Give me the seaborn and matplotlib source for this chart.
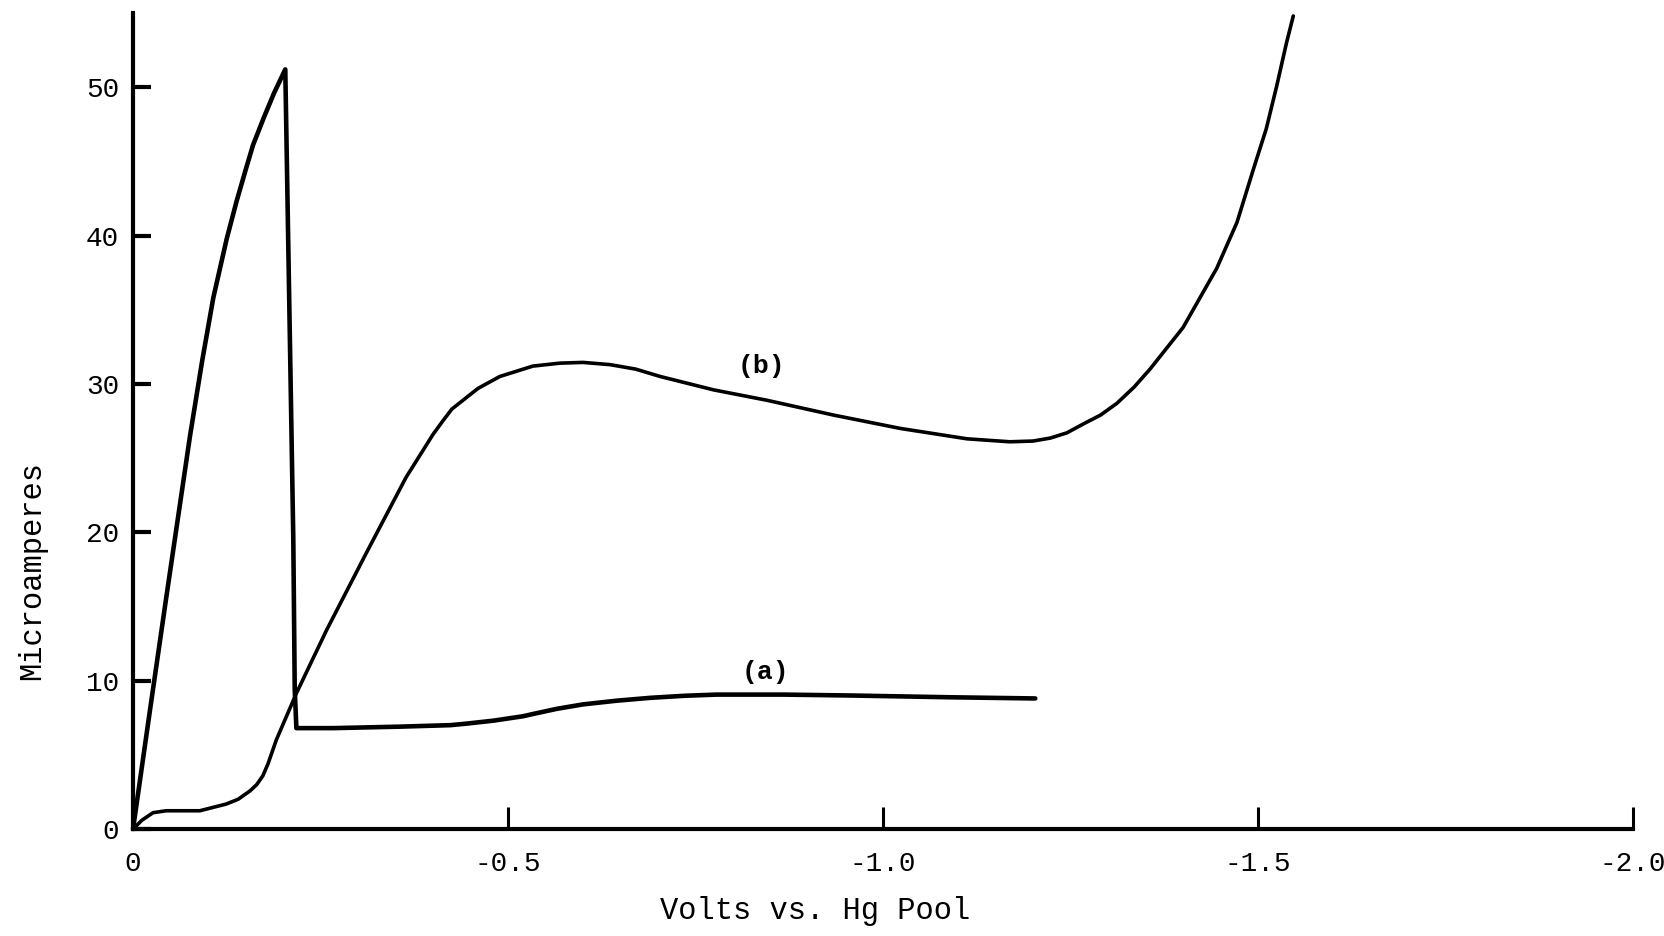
import matplotlib
matplotlib.use("Agg")
import matplotlib.pyplot as plt
import seaborn as sns
import pandas as pd

# ---- data (volts vs. Hg pool, microamperes) ----
curve_a_volts = [0.0, -0.022, -0.044, -0.060, -0.076, -0.092, -0.107, -0.125, -0.138,
                 -0.150, -0.160, -0.174, -0.188, -0.203, -0.2137, -0.2156, -0.2178,
                 -0.267, -0.356, -0.423, -0.444, -0.480, -0.520, -0.533, -0.565,
                 -0.600, -0.645, -0.689, -0.735, -0.778, -0.867, -0.956, -1.089, -1.203]
curve_a_current = [0.0, 7.8, 15.5, 21.0, 26.5, 31.5, 35.8, 39.8, 42.3,
                   44.4, 46.1, 47.9, 49.6, 51.2, 19.5, 9.4, 6.8,
                   6.8, 6.9, 7.0, 7.1, 7.3, 7.6, 7.75, 8.1,
                   8.4, 8.65, 8.84, 8.98, 9.06, 9.06, 9.0, 8.88, 8.8]

curve_b_volts = [0.0, -0.012, -0.0267, -0.044, -0.089, -0.124, -0.140, -0.156, -0.165,
                 -0.173, -0.180, -0.191, -0.218, -0.258, -0.311, -0.364, -0.400,
                 -0.413, -0.425, -0.44, -0.46, -0.489, -0.533, -0.569, -0.600, -0.636,
                 -0.670, -0.703, -0.774, -0.845, -0.934, -1.023, -1.112, -1.169,
                 -1.200, -1.223, -1.245, -1.267, -1.290, -1.312, -1.335, -1.356,
                 -1.40, -1.445, -1.472, -1.494, -1.511, -1.525, -1.538, -1.547]
curve_b_current = [0.0, 0.6, 1.1, 1.23, 1.23, 1.68, 2.0, 2.57, 3.0,
                   3.58, 4.4, 6.0, 9.17, 13.4, 18.6, 23.7, 26.6,
                   27.5, 28.3, 28.9, 29.7, 30.5, 31.2, 31.4, 31.45, 31.3,
                   31.0, 30.5, 29.6, 28.9, 27.9, 27.0, 26.3, 26.1,
                   26.15, 26.35, 26.7, 27.3, 27.9, 28.7, 29.8, 31.0,
                   33.8, 37.8, 40.9, 44.5, 47.2, 50.1, 53.0, 54.8]

x_ticks = [0.0, -0.5, -1.0, -1.5, -2.0]
x_tick_labels = ["0", "-0.5", "-1.0", "-1.5", "-2.0"]
y_ticks = [0, 10, 20, 30, 40, 50]
y_tick_labels = ["0", "10", "20", "30", "40", "50"]
curve_labels = ["(a)", "(b)"]
label_positions = [(-0.843, 10.6), (-0.838, 31.2)]

sns.set_theme(style="white")
plt.rcParams["font.family"] = ["Liberation Mono", "DejaVu Sans Mono"]
plt.rcParams["lines.solid_joinstyle"] = "round"
plt.rcParams["lines.solid_capstyle"] = "round"

df_a = pd.DataFrame({"volts": curve_a_volts, "current": curve_a_current})
df_b = pd.DataFrame({"volts": curve_b_volts, "current": curve_b_current})

fig = plt.figure(figsize=(16.65, 9.36), dpi=100)
ax = fig.add_axes([0.0799, 0.1143, 0.9009, 0.8718])

sns.lineplot(data=df_a, x="volts", y="current", sort=False, estimator=None,
             color="black", linewidth=3.3, ax=ax, clip_on=False)
sns.lineplot(data=df_b, x="volts", y="current", sort=False, estimator=None,
             color="black", linewidth=2.6, ax=ax, clip_on=False)

for txt, (xv, yv) in zip(curve_labels, label_positions):
    ax.text(xv, yv, txt, ha="center", va="center", fontsize=19,
            fontweight="bold", color="black")

ax.set_xlim(0, -2.0)
ax.set_ylim(0, 55)

for side in ["top", "right"]:
    ax.spines[side].set_visible(False)
for side in ["left", "bottom"]:
    ax.spines[side].set_color("black")
    ax.spines[side].set_linewidth(3.0)

ax.set_xticks(x_ticks)
ax.set_xticklabels(x_tick_labels)
ax.set_yticks(y_ticks)
ax.set_yticklabels(y_tick_labels)
ax.tick_params(axis="x", direction="in", length=16, width=2.2, pad=16,
               labelsize=20, colors="black", bottom=True)
ax.tick_params(axis="y", direction="in", length=13, width=3.0, pad=10,
               labelsize=20, colors="black", left=True)

ax.set_xlabel("")
ax.set_ylabel("")
fig.text(0.4898, 0.027, "Volts vs. Hg Pool", ha="center", va="center",
         fontsize=22, color="black")
fig.text(0.0192, 0.39, "Microamperes", ha="center", va="center",
         rotation=90, fontsize=22, color="black")

ax.grid(False)
fig.savefig("out.png", dpi=100, facecolor="white")
